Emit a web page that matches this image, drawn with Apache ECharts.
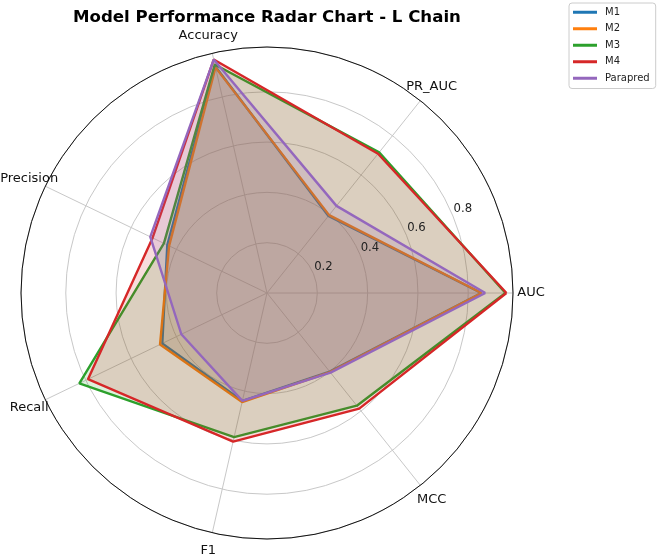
<!DOCTYPE html>
<html><head><meta charset="utf-8">
<script src="https://cdn.jsdelivr.net/npm/echarts@6/dist/echarts.min.js"></script>
<style>html,body{margin:0;padding:0;background:#fff}#c{width:659px;height:555px}</style>
</head><body><div id="c"></div>
<script>
const categories = ['AUC', 'PR_AUC', 'Accuracy', 'Precision', 'Recall', 'F1', 'MCC'];
const seriesNames = ['M1', 'M2', 'M3', 'M4', 'Parapred'];
const m1 = [0.852, 0.392, 0.925, 0.440, 0.462, 0.440, 0.400];
const m2 = [0.853, 0.396, 0.920, 0.432, 0.472, 0.445, 0.402];
const m3 = [0.948, 0.715, 0.932, 0.455, 0.828, 0.588, 0.573];
const m4 = [0.952, 0.708, 0.952, 0.505, 0.790, 0.606, 0.588];
const parapred = [0.868, 0.443, 0.952, 0.515, 0.378, 0.440, 0.405];
const radialTicks = [0.2, 0.4, 0.6, 0.8];
const colors = ['#1f77b4', '#ff7f0e', '#2ca02c', '#d62728', '#9467bd'];
const seriesValues = [m1, m2, m3, m4, parapred];

const RMAX = 0.978;
const STEP = 360 / categories.length;
const FONT = 'DejaVu Sans';
const toPolar = arr => arr.map((v, i) => [v, i * STEP]).concat([[arr[0], 360]]);

const chart = echarts.init(document.getElementById('c'), null, {renderer: 'canvas'});
const option = {
  animation: false,
  backgroundColor: '#fff',
  title: {
    text: 'Model Performance Radar Chart - L Chain',
    left: 73, top: 8, padding: 0,
    textStyle: {fontFamily: FONT, fontWeight: 'bold', fontSize: 16.6, color: '#000', lineHeight: 20}
  },
  legend: {
    data: seriesNames, orient: 'vertical', left: 569, top: 3,
    icon: 'rect', itemWidth: 24, itemHeight: 3, itemGap: 4,
    padding: [3, 6, 4, 4], borderColor: '#cccccc', borderWidth: 1, borderRadius: 3,
    backgroundColor: '#fff',
    textStyle: {fontSize: 10, fontFamily: FONT, color: '#222', lineHeight: 12.5, padding: [0, 0, 0, 3]}
  },
  polar: [
    {center: [267, 293], radius: 246},
    {center: [277, 286], radius: 246}
  ],
  angleAxis: [
    {
      polarIndex: 0, type: 'value', min: 0, max: 360, interval: STEP,
      startAngle: 0, clockwise: false,
      axisLine: {show: true, lineStyle: {color: '#111', width: 1}},
      axisTick: {show: false}, axisLabel: {show: false},
      splitLine: {show: true, lineStyle: {color: '#c8c8c8', width: 1}}
    },
    {polarIndex: 1, type: 'value', min: 0, max: 360, startAngle: 22.5, clockwise: false, show: false}
  ],
  radiusAxis: [
    {
      polarIndex: 0, type: 'value', min: 0, max: RMAX, interval: 0.2,
      axisLine: {show: false}, axisTick: {show: false}, axisLabel: {show: false},
      splitLine: {show: true, lineStyle: {color: '#c8c8c8', width: 1}}
    },
    {
      polarIndex: 1, type: 'value', min: 0, max: RMAX, interval: 0.2, z: 20,
      axisLine: {show: false}, axisTick: {show: false}, splitLine: {show: false},
      axisLabel: {
        show: true, margin: 0, align: 'center', verticalAlign: 'middle',
        fontSize: 11.7, fontFamily: FONT, color: '#222',
        formatter: v => radialTicks.some(t => Math.abs(t - v) < 1e-6) ? v.toFixed(1) : ''
      }
    }
  ],
  series: seriesValues.map((arr, k) => ({
    name: seriesNames[k], type: 'line', coordinateSystem: 'polar', polarIndex: 0,
    data: toPolar(arr), symbol: 'none', showSymbol: false, smooth: false,
    lineStyle: {width: 2.4, color: colors[k]},
    itemStyle: {color: colors[k]},
    areaStyle: {color: colors[k], opacity: 0.16},
    z: 2 + k
  }))
};
chart.setOption(option);

const labelR = RMAX * 264 / 246;
const gfx = categories.map((name, i) => {
  let p = null;
  try { p = chart.convertToPixel({polarIndex: 0}, [labelR, i * STEP]); } catch (e) { p = null; }
  if (!p) {
    const a = i * STEP * Math.PI / 180;
    p = [267 + 264 * Math.cos(a), 293 - 264 * Math.sin(a)];
  }
  return {
    type: 'text', x: p[0], y: p[1], z: 30,
    style: {text: name, align: 'center', verticalAlign: 'middle', fontSize: 13, fontFamily: FONT, fill: '#111'}
  };
});
chart.setOption({graphic: gfx});
</script>
</body></html>
